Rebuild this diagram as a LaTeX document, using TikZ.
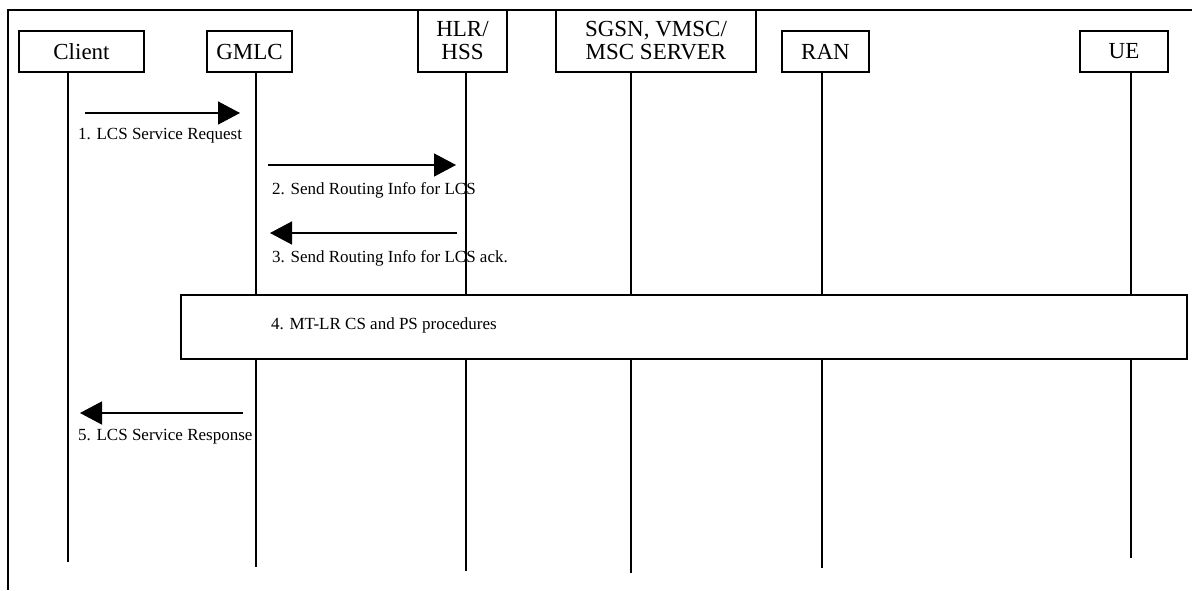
\documentclass[tikz,border=0pt]{standalone}
\usepackage{fontspec}
\setmainfont{Liberation Serif}
\usetikzlibrary{arrows.meta}

\begin{document}
\begin{tikzpicture}[x=1pt,y=-1pt,
    hdr/.style={draw,line width=1.2pt,fill=white,inner sep=0pt,align=center,font=\fontsize{23}{23}\selectfont},
    life/.style={line width=1.2pt},
    msg/.style={line width=1.5pt,-{Triangle[length=22pt,width=23pt]}},
    lbl/.style={anchor=base west,inner sep=0pt,font=\fontsize{17}{20}\selectfont}]
  \useasboundingbox (0,0) rectangle (1192,590);
  \draw[line width=2pt] (1192,10) -- (8,10) -- (8,590); % frame
  % entities
  \node[hdr,minimum width=125,minimum height=41] (client) at (81.5,51.5) {Client};
  \node[hdr,minimum width=85,minimum height=41]  (gmlc)   at (249.5,51.5) {GMLC};
  \node[hdr,minimum width=89,minimum height=62]  (hlr)    at (462.5,41) {HLR/\\HSS};
  \node[hdr,minimum width=200,minimum height=62] (sgsn)   at (656,41) {SGSN, VMSC/\\MSC SERVER};
  \node[hdr,minimum width=87,minimum height=41]  (ran)    at (825.5,51.5) {RAN};
  \node[hdr,minimum width=88,minimum height=41]  (ue)     at (1124,51.5) {UE};
  % lifelines
  \coordinate (client-end) at (68,562);
  \coordinate (gmlc-end)   at (256,567);
  \coordinate (hlr-end)    at (466,571);
  \coordinate (sgsn-end)   at (631,573);
  \coordinate (ran-end)    at (822,568);
  \coordinate (ue-end)     at (1131,558);
  \draw[life] (client.south -| client-end) -- (client-end);
  \draw[life] (gmlc.south -| gmlc-end) -- (gmlc-end);
  \draw[life] (hlr.south -| hlr-end) -- (hlr-end);
  \draw[life] (sgsn.south -| sgsn-end) -- (sgsn-end);
  \draw[life] (ran.south -| ran-end) -- (ran-end);
  \draw[life] (ue.south -| ue-end) -- (ue-end);
  % 1
  \coordinate (m1a) at (85,113); \coordinate (m1b) at (240,113);
  \draw[msg] (m1a) -- (m1b);
  \node[lbl] (m1) at (78,139) {1. LCS Service Request};
  % 2
  \coordinate (m2a) at (268,165); \coordinate (m2b) at (456,165);
  \draw[msg] (m2a) -- (m2b);
  \node[lbl] (m2) at (272,194) {2. Send Routing Info for LCS};
  % 3
  \coordinate (m3a) at (457,233); \coordinate (m3b) at (270,233);
  \draw[msg] (m3a) -- (m3b);
  \node[lbl] (m3) at (272,262) {3. Send Routing Info for LCS ack.};
  % 4
  \node[draw,line width=1.2pt,fill=white,minimum width=1006,minimum height=64,inner sep=0pt] (proc) at (684,327) {};
  \node[lbl] (m4) at (271,329) {4. MT-LR CS and PS procedures};
  % 5
  \coordinate (m5a) at (243,413); \coordinate (m5b) at (80,413);
  \draw[msg] (m5a) -- (m5b);
  \node[lbl] (m5) at (78,440) {5. LCS Service Response};
\end{tikzpicture}
\end{document}
